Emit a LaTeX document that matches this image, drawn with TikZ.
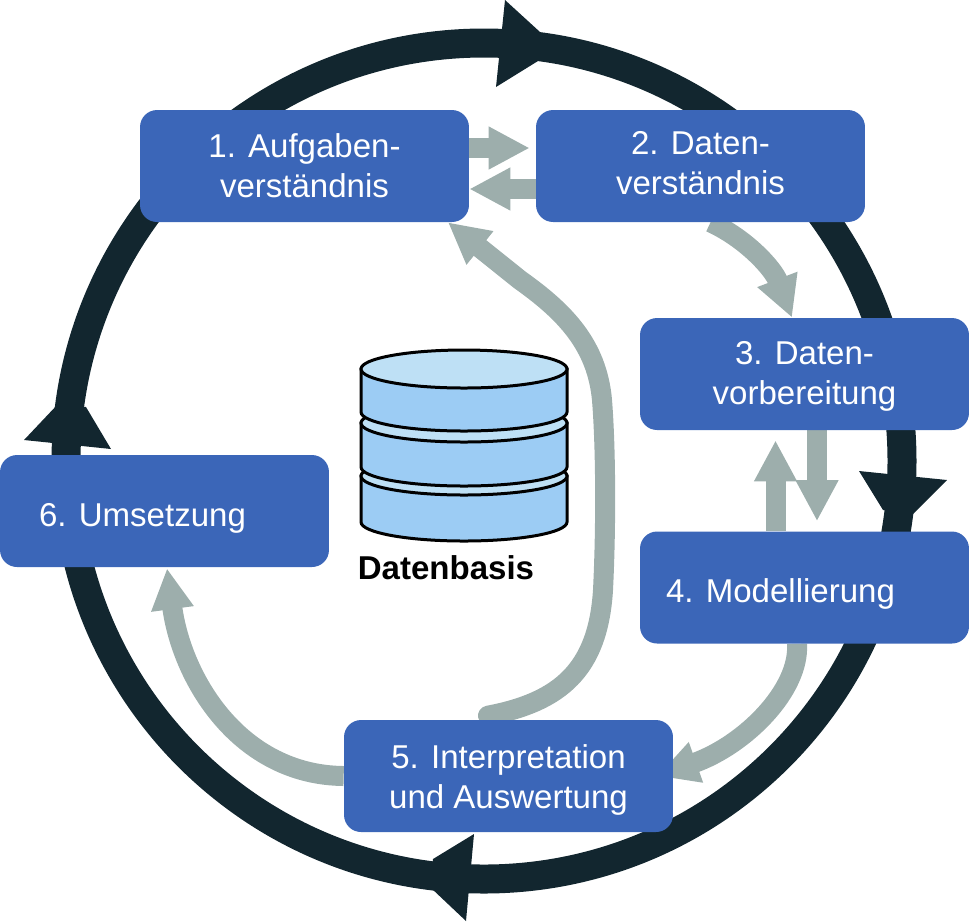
\documentclass[tikz,border=0pt]{standalone}
\usepackage{fontspec}
\setmainfont{Liberation Sans}
\usetikzlibrary{arrows.meta, backgrounds}
\definecolor{ringdark}{HTML}{12262F}
\definecolor{boxblue}{HTML}{3B66B8}
\definecolor{flowgray}{HTML}{9DAEAC}
\definecolor{cylbody}{HTML}{9CCCF4}
\definecolor{cyltop}{HTML}{BEE0F5}
\tikzset{
  blockbox/.style={fill=boxblue, text=white, rounded corners=.34cm, minimum width=6.58cm, minimum height=2.24cm, align=center, font=\fontsize{18.8}{22.8}\selectfont},
  flow/.style={line width=.4cm, color=flowgray, -{Triangle[width=.8cm,length=.82cm]}},
  ringhead/.style={fill=ringdark},
  cyl/.style={draw=black, line width=.06cm, fill=#1}
}

\begin{document}
\begin{tikzpicture}[x=.02cm, y=-.02cm]
\useasboundingbox (0,0) rectangle (969,921);
\node (b1) at (304.5,166)[blockbox] {1. Aufgaben-\\verständnis};
\node (b2) at (700.5,166)[blockbox, text depth=3.4pt] {2. Daten-\\verständnis};
\node (b3) at (804.5,374)[blockbox, text height=38.5pt] {3. Daten-\\vorbereitung};
\node (b4) at (804.5,587.5)[blockbox, text height=21.5pt] {4. Modellierung\hspace*{.96cm}};
\node (b5) at (508.5,776)[blockbox, text height=40.5pt] {5. Interpretation\\und Auswertung};
\node (b6) at (164.5,511)[blockbox, text height=21.5pt] {6. Umsetzung\hspace*{.88cm}};
% database
\foreach \ytop/\ybot in {476/522, 423/467, 369/412} {
  \draw[cyl=cylbody] (361,\ytop) -- (361,\ybot) arc[start angle=180, end angle=0, x radius=103, y radius=19] -- (567,\ytop) -- cycle;
  \draw[cyl=cyltop] (464,\ytop) ellipse[x radius=103, y radius=19];
}
\node (dbname) at (446,568) {\fontsize{18.8}{22.8}\selectfont\bfseries Datenbasis};
\begin{scope}[on background layer]
% outer ring
\draw[ringdark, line width=.58cm] (484,461) circle[radius=418];
\fill[ringhead] (505,0) -- (540,32) -- (538,61) -- (496,87) -- cycle;
\fill[ringhead] (859,471) -- (947,480) -- (912,515) -- (883,510) -- cycle;
\fill[ringhead] (474,834) -- (433,859) -- (430,887) -- (466,921) -- cycle;
\fill[ringhead] (24,440) -- (58,404) -- (86,407) -- (111,449) -- cycle;
% arrows between steps
\draw[flow] ([yshift=.36cm]b1.east) -- ([xshift=-.12cm,yshift=.36cm]b2.west);
\draw[flow] ([yshift=-.46cm]b2.west) -- ([yshift=-.46cm]b1.east);
\draw[flow] ([xshift=.2cm]b2.south) .. controls (745,238) and (773,268) .. ([xshift=-.25cm]b3.north);
\draw[flow] ([xshift=.25cm]b3.south) -- ([xshift=.25cm,yshift=.2cm]b4.north);
\draw[flow] ([xshift=-.58cm]b4.north) -- ([xshift=-.58cm,yshift=-.2cm]b3.south);
\draw[flow] ([xshift=-.15cm]b4.south) .. controls (800,690) and (745,745) .. ([xshift=-.32cm]b5.east);
\draw[flow] (b5.west) .. controls (240,775) and (182,680) .. ([xshift=.05cm,yshift=-.02cm]b6.south);
\draw[flow, line cap=round] ([xshift=-.41cm,yshift=.08cm]b5.north) .. controls (560,702) and (598,670) .. (603,590) .. controls (606,530) and (606,450) .. (602,400) .. controls (597,345) and (565,312) .. (520,280) -- ([xshift=2.87cm]b1.south);
\end{scope}
\end{tikzpicture}
\end{document}
